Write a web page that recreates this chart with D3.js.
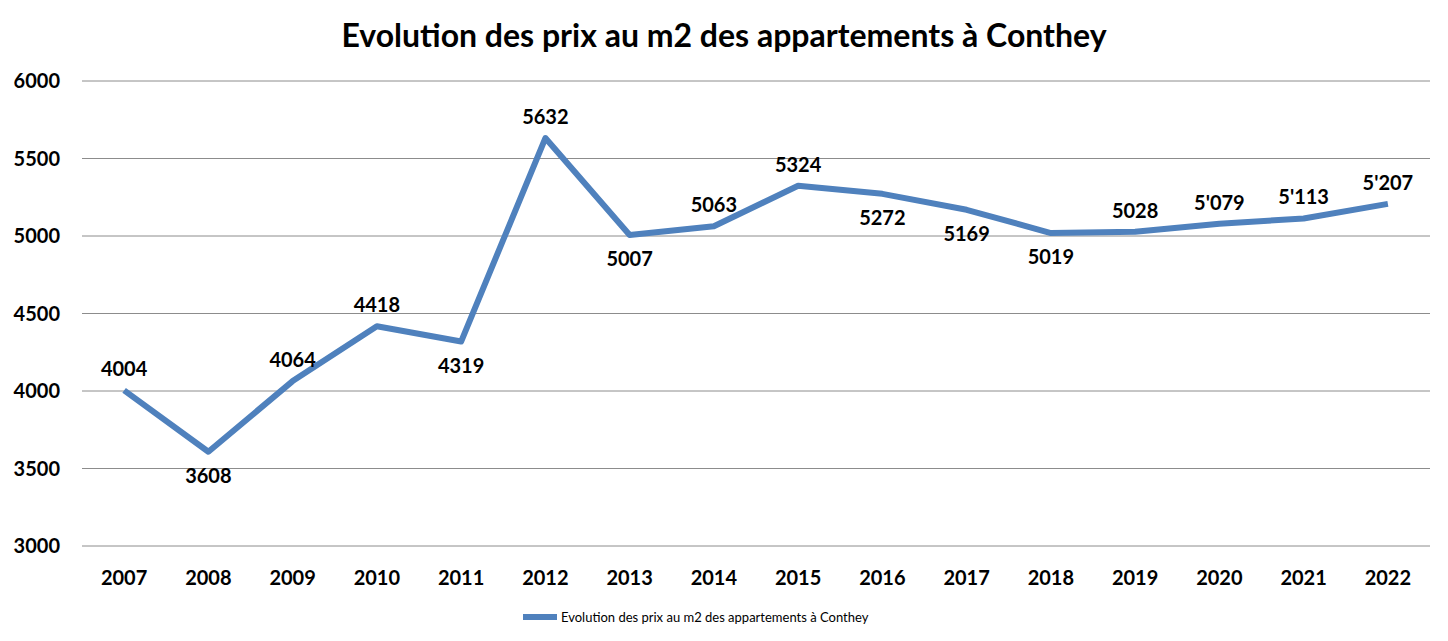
<!DOCTYPE html>
<html>
<head>
<meta charset="utf-8">
<script src="https://cdn.jsdelivr.net/npm/d3@7"></script>
<style>
  body { margin: 0; background: #fff; }
  text { font-family: Lato, "Open Sans", sans-serif; }
</style>
</head>
<body>
<svg id="chart" width="1448" height="641"></svg>
<script>
var years = ["2007","2008","2009","2010","2011","2012","2013","2014","2015","2016","2017","2018","2019","2020","2021","2022"];
var prices = [4004, 3608, 4064, 4418, 4319, 5632, 5007, 5063, 5324, 5272, 5169, 5019, 5028, 5079, 5113, 5207];
var labels = ["4004","3608","4064","4418","4319","5632","5007","5063","5324","5272","5169","5019","5028","5'079","5'113","5'207"];
var labelBelow = [false, true, false, false, true, false, true, false, false, true, true, true, false, false, false, false];
var yTicks = [3000, 3500, 4000, 4500, 5000, 5500, 6000];
var seriesName = "Evolution des prix au m2 des appartements à Conthey";

var svg = d3.select("#chart");

var x = d3.scaleBand().domain(years).range([82, 1430]);
var y = d3.scaleLinear().domain([3000, 6000]).range([546, 81]);

// gridlines
svg.append("g")
  .selectAll("line")
  .data(yTicks)
  .enter().append("line")
  .attr("x1", 82).attr("x2", 1430)
  .attr("y1", function(d) { return y(d); })
  .attr("y2", function(d) { return y(d); })
  .attr("stroke", "#8c8c8c").attr("stroke-width", 1);

// y tick labels
svg.append("g")
  .selectAll("text")
  .data(yTicks)
  .enter().append("text")
  .attr("x", 60).attr("y", function(d) { return y(d) + 7; })
  .attr("text-anchor", "end")
  .attr("font-size", 20).attr("font-weight", "bold")
  .text(function(d) { return d; });

// x tick labels
svg.append("g")
  .selectAll("text")
  .data(years)
  .enter().append("text")
  .attr("x", function(d) { return x(d) + x.bandwidth() / 2; })
  .attr("y", 585)
  .attr("text-anchor", "middle")
  .attr("font-size", 20).attr("font-weight", "bold")
  .text(function(d) { return d; });

// line
var line = d3.line()
  .x(function(d, i) { return x(years[i]) + x.bandwidth() / 2; })
  .y(function(d) { return y(d); });

svg.append("path")
  .datum(prices)
  .attr("d", line)
  .attr("fill", "none")
  .attr("stroke", "#4f81bd")
  .attr("stroke-width", 6)
  .attr("stroke-linejoin", "round");

// data labels
svg.append("g")
  .selectAll("text")
  .data(prices)
  .enter().append("text")
  .attr("x", function(d, i) { return x(years[i]) + x.bandwidth() / 2; })
  .attr("y", function(d, i) { return y(d) + (labelBelow[i] ? 31 : -14); })
  .attr("text-anchor", "middle")
  .attr("font-size", 20).attr("font-weight", "bold")
  .text(function(d, i) { return labels[i]; });

// title
svg.append("text")
  .attr("x", 724).attr("y", 47)
  .attr("text-anchor", "middle")
  .attr("font-size", 32).attr("font-weight", "bold")
  .text(seriesName);

// legend
svg.append("line")
  .attr("x1", 523).attr("x2", 557)
  .attr("y1", 617).attr("y2", 617)
  .attr("stroke", "#4f81bd").attr("stroke-width", 6);
svg.append("text")
  .attr("x", 561).attr("y", 622)
  .attr("font-size", 13)
  .text(seriesName);
</script>
</body>
</html>
